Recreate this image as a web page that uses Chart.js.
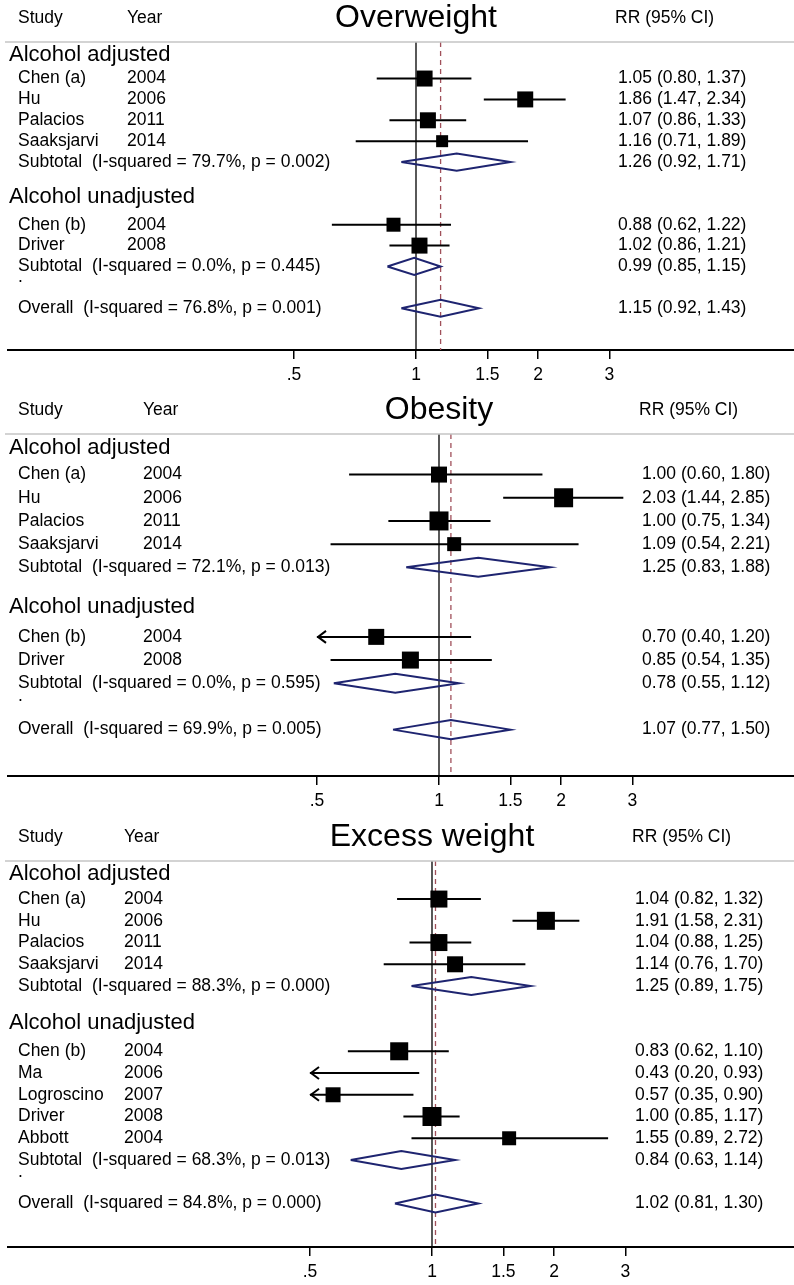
<!DOCTYPE html>
<html>
<head>
<meta charset="utf-8">
<script src="https://cdn.jsdelivr.net/npm/chart.js@4.4.1/dist/chart.umd.min.js"></script>
<style>
  html, body { margin: 0; padding: 0; background: #fff; }
  #wrap { position: relative; width: 794px; height: 1285px; }
  #wrap canvas { position: absolute; left: 0; }
</style>
</head>
<body>
<div id="wrap">
  <canvas id="c1"></canvas>
  <canvas id="c2"></canvas>
  <canvas id="c3"></canvas>
</div>
<script>
// ---- data ----
const groupNames = ['Alcohol adjusted', 'Alcohol unadjusted'];
const tickValues = [0.5, 1, 1.5, 2, 3];
const tickLabels = ['.5', '1', '1.5', '2', '3'];
const plotMin = 0.5; // CIs below this get an arrow

// Overweight
const owStudies = ['Chen (a)', 'Hu', 'Palacios', 'Saaksjarvi', 'Chen (b)', 'Driver'];
const owYears = ['2004', '2006', '2011', '2014', '2004', '2008'];
const owGroup = [0, 0, 0, 0, 1, 1];
const owRR = [1.05, 1.86, 1.07, 1.16, 0.88, 1.02];
const owLo = [0.80, 1.47, 0.86, 0.71, 0.62, 0.86];
const owHi = [1.37, 2.34, 1.33, 1.89, 1.22, 1.21];
const owWeight = [18.7, 18.7, 18.7, 10.5, 14.3, 18.7];
const owSubRR = [1.26, 0.99];
const owSubLo = [0.92, 0.85];
const owSubHi = [1.71, 1.15];
const owSubI2 = ['79.7%', '0.0%'];
const owSubP = ['0.002', '0.445'];
const owAll = [1.15, 0.92, 1.43];
const owAllI2 = '76.8%', owAllP = '0.001';

// Obesity
const obStudies = ['Chen (a)', 'Hu', 'Palacios', 'Saaksjarvi', 'Chen (b)', 'Driver'];
const obYears = ['2004', '2006', '2011', '2014', '2004', '2008'];
const obGroup = [0, 0, 0, 0, 1, 1];
const obRR = [1.00, 2.03, 1.00, 1.09, 0.70, 0.85];
const obLo = [0.60, 1.44, 0.75, 0.54, 0.40, 0.54];
const obHi = [1.80, 2.85, 1.34, 2.21, 1.20, 1.35];
const obWeight = [18.7, 26.4, 26.4, 14.3, 18.7, 21.1];
const obSubRR = [1.25, 0.78];
const obSubLo = [0.83, 0.55];
const obSubHi = [1.88, 1.12];
const obSubI2 = ['72.1%', '0.0%'];
const obSubP = ['0.013', '0.595'];
const obAll = [1.07, 0.77, 1.50];
const obAllI2 = '69.9%', obAllP = '0.005';

// Excess weight
const exStudies = ['Chen (a)', 'Hu', 'Palacios', 'Saaksjarvi', 'Chen (b)', 'Ma', 'Logroscino', 'Driver', 'Abbott'];
const exYears = ['2004', '2006', '2011', '2014', '2004', '2006', '2007', '2008', '2004'];
const exGroup = [0, 0, 0, 0, 1, 1, 1, 1, 1];
const exRR = [1.04, 1.91, 1.04, 1.14, 0.83, 0.43, 0.57, 1.00, 1.55];
const exLo = [0.82, 1.58, 0.88, 0.76, 0.62, 0.20, 0.35, 0.85, 0.89];
const exHi = [1.32, 2.31, 1.25, 1.70, 1.10, 0.93, 0.90, 1.17, 2.72];
const exWeight = [21.1, 23.7, 21.1, 18.7, 23.7, 8.0, 16.4, 26.4, 14.3];
const exSubRR = [1.25, 0.84];
const exSubLo = [0.89, 0.63];
const exSubHi = [1.75, 1.14];
const exSubI2 = ['88.3%', '68.3%'];
const exSubP = ['0.000', '0.013'];
const exAll = [1.02, 0.81, 1.30];
const exAllI2 = '84.8%', exAllP = '0.000';

// ---- panels built from the arrays ----
const panels = [
  { title: 'Overweight', studies: owStudies, years: owYears, group: owGroup, rr: owRR, lo: owLo, hi: owHi, weight: owWeight,
    subRR: owSubRR, subLo: owSubLo, subHi: owSubHi, subI2: owSubI2, subP: owSubP, all: owAll, allI2: owAllI2, allP: owAllP },
  { title: 'Obesity', studies: obStudies, years: obYears, group: obGroup, rr: obRR, lo: obLo, hi: obHi, weight: obWeight,
    subRR: obSubRR, subLo: obSubLo, subHi: obSubHi, subI2: obSubI2, subP: obSubP, all: obAll, allI2: obAllI2, allP: obAllP },
  { title: 'Excess weight', studies: exStudies, years: exYears, group: exGroup, rr: exRR, lo: exLo, hi: exHi, weight: exWeight,
    subRR: exSubRR, subLo: exSubLo, subHi: exSubHi, subI2: exSubI2, subP: exSubP, all: exAll, allI2: exAllI2, allP: exAllP }
];

// page layout of each panel (pixels)
const layouts = [
  { top: 0,   height: 392, gray: 42,  axis: 350,  nullX: 416, yearX: 127, rrX: 618 },
  { top: 392, height: 420, gray: 434, axis: 776,  nullX: 439, yearX: 143, rrX: 642 },
  { top: 812, height: 473, gray: 861, axis: 1247, nullX: 432, yearX: 124, rrX: 635 }
];

const FONT = "'Liberation Sans', Arial, Helvetica, sans-serif";
const PX_PER_LN = 176;
const LEFT = 8, WIDTH = 794;
const NAVY = '#1e2470';
const RED = '#a0505a';

function fmt(v) { return v.toFixed(2); }
function ciText(r, l, h) { return fmt(r) + ' (' + fmt(l) + ', ' + fmt(h) + ')'; }

function buildRows(p) {
  const rows = [];
  let r = 0;
  groupNames.forEach((g, gi) => {
    if (gi > 0) r++;
    rows.push({ kind: 'head', gi: gi, row: r++ });
    p.group.forEach((gg, i) => { if (gg === gi) rows.push({ kind: 'study', i: i, row: r++ }); });
    rows.push({ kind: 'sub', gi: gi, row: r++ });
  });
  rows.push({ kind: 'dot', row: r++ });
  rows.push({ kind: 'overall', row: r });
  return rows;
}

function makePanel(p, L, canvasId) {
  const cv = document.getElementById(canvasId);
  cv.width = WIDTH; cv.height = L.height;
  cv.style.width = WIDTH + 'px'; cv.style.height = L.height + 'px';
  cv.style.top = L.top + 'px';

  const rows = buildRows(p);
  const last = rows[rows.length - 1].row;
  const yMin = -0.75, yMax = last + 2;
  const xMin = Math.exp((LEFT - L.nullX) / PX_PER_LN);
  const xMax = Math.exp((WIDTH - L.nullX) / PX_PER_LN);

  const squares = [], sizes = [], ci = [], arrows = [], diamonds = [];
  rows.forEach(rw => {
    if (rw.kind === 'study') {
      const i = rw.i;
      if (p.rr[i] >= plotMin) {
        squares.push({ x: p.rr[i], y: rw.row });
        sizes.push(3.7 * Math.sqrt(p.weight[i]) / Math.SQRT2);
      }
      ci.push({ x: Math.max(p.lo[i], plotMin), y: rw.row }, { x: p.hi[i], y: rw.row }, { x: null, y: null });
      if (p.lo[i] < plotMin) arrows.push(rw.row);
    }
    if (rw.kind === 'sub' || rw.kind === 'overall') {
      const e = rw.kind === 'sub' ? p.subRR[rw.gi] : p.all[0];
      const l = rw.kind === 'sub' ? p.subLo[rw.gi] : p.all[1];
      const h = rw.kind === 'sub' ? p.subHi[rw.gi] : p.all[2];
      const d = 0.41;
      diamonds.push({ x: l, y: rw.row }, { x: e, y: rw.row - d }, { x: h, y: rw.row },
                    { x: e, y: rw.row + d }, { x: l, y: rw.row }, { x: null, y: null });
    }
  });

  const textPlugin = {
    id: 'forestText',
    afterDatasetsDraw(chart) {
      const ctx = chart.ctx, xs = chart.scales.x, ys = chart.scales.y;
      ctx.save();
      ctx.strokeStyle = '#000';
      ctx.lineWidth = 2;
      arrows.forEach(r => {
        const tx = xs.getPixelForValue(plotMin), ty = ys.getPixelForValue(r);
        ctx.beginPath();
        ctx.moveTo(tx + 9, ty - 6); ctx.lineTo(tx + 1, ty); ctx.lineTo(tx + 9, ty + 6);
        ctx.stroke();
      });
      ctx.restore();
    },
    afterDraw(chart) {
      const ctx = chart.ctx, ys = chart.scales.y, area = chart.chartArea;
      ctx.save();
      // top rule
      ctx.strokeStyle = '#c4c4c4';
      ctx.lineWidth = 1.5;
      ctx.beginPath(); ctx.moveTo(LEFT - 3, area.top); ctx.lineTo(WIDTH, area.top); ctx.stroke();

      ctx.fillStyle = '#000';
      ctx.textBaseline = 'middle';
      const hy = area.top - 24;
      ctx.font = '17.5px ' + FONT;
      ctx.textAlign = 'left';
      ctx.fillText('Study', 18, hy);
      ctx.fillText('Year', L.yearX, hy);
      ctx.fillText('RR (95% CI)', L.rrX - 3, hy);
      ctx.font = '32px ' + FONT;
      ctx.textAlign = 'center';
      ctx.fillText(p.title, L.nullX, hy);
      ctx.textAlign = 'left';

      rows.forEach(rw => {
        const y = ys.getPixelForValue(rw.row);
        if (rw.kind === 'head') {
          ctx.font = '22px ' + FONT;
          ctx.fillText(groupNames[rw.gi], 9, y - (rw.gi === 0 ? 3 : 7));
          return;
        }
        ctx.font = '17.5px ' + FONT;
        if (rw.kind === 'study') {
          const i = rw.i;
          ctx.fillText(p.studies[i], 18, y);
          ctx.fillText(p.years[i], L.yearX, y);
          ctx.fillText(ciText(p.rr[i], p.lo[i], p.hi[i]), L.rrX, y);
        } else if (rw.kind === 'sub') {
          const g = rw.gi;
          ctx.fillText('Subtotal  (I-squared = ' + p.subI2[g] + ', p = ' + p.subP[g] + ')', 18, y);
          ctx.fillText(ciText(p.subRR[g], p.subLo[g], p.subHi[g]), L.rrX, y);
        } else if (rw.kind === 'dot') {
          ctx.fillText('.', 18, y - 10);
        } else if (rw.kind === 'overall') {
          ctx.fillText('Overall  (I-squared = ' + p.allI2 + ', p = ' + p.allP + ')', 18, y);
          ctx.fillText(ciText(p.all[0], p.all[1], p.all[2]), L.rrX, y);
        }
      });
      ctx.restore();
    }
  };

  return new Chart(cv, {
    type: 'scatter',
    data: {
      datasets: [
        { label: 'studies', data: squares, pointStyle: 'rect', pointRadius: sizes, pointHoverRadius: sizes,
          backgroundColor: '#000', borderWidth: 0 },
        { label: 'ci', data: ci, showLine: true, spanGaps: false, borderColor: '#000', borderWidth: 2,
          pointRadius: 0, pointHoverRadius: 0 },
        { label: 'pooled', data: diamonds, showLine: true, spanGaps: false, borderColor: NAVY, borderWidth: 2,
          borderJoinStyle: 'miter', pointRadius: 0, pointHoverRadius: 0, fill: false },
        { label: 'overall', data: [{ x: p.all[0], y: yMin }, { x: p.all[0], y: yMax }], showLine: true,
          borderColor: RED, borderWidth: 1.3, borderDash: [5, 4], pointRadius: 0 },
        { label: 'null', data: [{ x: 1, y: yMin }, { x: 1, y: yMax }], showLine: true,
          borderColor: '#000', borderWidth: 1.3, pointRadius: 0 }
      ]
    },
    options: {
      responsive: false,
      animation: false,
      devicePixelRatio: 1,
      events: [],
      layout: { autoPadding: false, padding: { left: LEFT, right: 0, top: L.gray - L.top, bottom: 0 } },
      plugins: { legend: { display: false }, tooltip: { enabled: false } },
      scales: {
        x: {
          type: 'logarithmic',
          bounds: 'data',
          min: xMin,
          max: xMax,
          afterBuildTicks: s => { s.ticks = tickValues.map(v => ({ value: v })); },
          afterFit: s => { s.height = L.height - (L.axis - L.top); },
          ticks: {
            autoSkip: false, maxRotation: 0, padding: 6, color: '#000',
            font: { family: FONT, size: 17.5 },
            callback: v => tickLabels[tickValues.indexOf(v)]
          },
          grid: { drawOnChartArea: false, drawTicks: true, tickLength: 9, color: '#000', lineWidth: 1.5 },
          border: { display: true, color: '#000', width: 2 }
        },
        y: { type: 'linear', reverse: true, min: yMin, max: yMax, display: false }
      }
    },
    plugins: [textPlugin]
  });
}

document.addEventListener('DOMContentLoaded', function() {
  makePanel(panels[0], layouts[0], 'c1');
  makePanel(panels[1], layouts[1], 'c2');
  makePanel(panels[2], layouts[2], 'c3');
});
</script>
</body>
</html>
